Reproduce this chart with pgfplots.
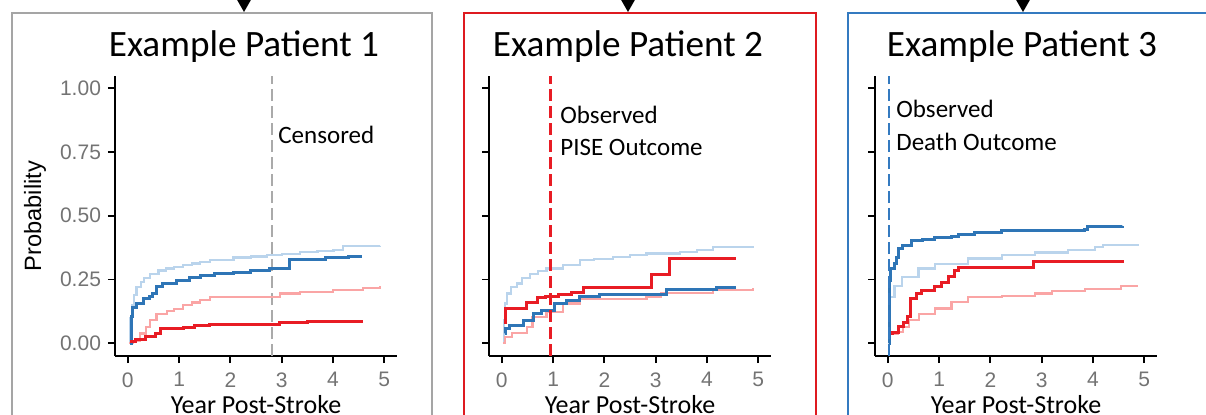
\documentclass[border=0pt]{standalone}
\usepackage{pgfplots}
\pgfplotsset{compat=1.18}
\usepackage{fontspec}
\setmainfont{Liberation Sans}
\newfontfamily\carlito{Carlito}
\definecolor{dblue}{RGB}{46,117,182}
\definecolor{lblue}{RGB}{186,212,236}
\definecolor{dred}{RGB}{232,28,36}
\definecolor{lred}{RGB}{250,165,165}
\definecolor{tickgray}{RGB}{115,115,115}
\definecolor{dashgray}{RGB}{170,170,170}
\definecolor{boxgray}{RGB}{165,165,165}
\definecolor{boxred}{RGB}{222,26,32}
\definecolor{boxblue}{RGB}{52,122,192}
\pgfplotsset{panel/.style={
  scale only axis, width=141pt, height=140.25pt,
  xmin=-0.25, xmax=5.25, ymin=-0.05, ymax=1.05,
  axis x line*=bottom, axis y line*=left,
  axis line style={-, line width=1.3pt, black},
  xtick={0,1,2,3,4,5}, ytick={0,0.25,0.5,0.75,1},
  tick align=outside, major tick length=3.5pt,
  tick style={line width=0.9pt, black},
  ticklabel style={font=\fontsize{10.5}{12}\selectfont, text=tickgray},
  xticklabel style={yshift=-1.2pt},
  /pgf/number format/assume math mode=true,
  anchor=south west, clip=false},
  lb/.style={const plot, lblue, line width=1.1pt},
  lr/.style={const plot, lred, line width=1.1pt},
  db/.style={const plot, dblue, line width=1.5pt},
  dr/.style={const plot, dred, line width=1.5pt}}
\begin{document}
\begin{tikzpicture}
\useasboundingbox (0pt,0pt) rectangle (603pt,207pt);
\clip (0pt,0pt) rectangle (603pt,207pt);
\begin{scope}[x=0.5pt,y=0.5pt]
% boxes
\draw[boxgray, line width=1.2pt] (12,-30) -- (12,401) -- (432,401) -- (432,-30);
\draw[boxred, line width=1.3pt] (464,-30) -- (464,401) -- (816,401) -- (816,-30);
\draw[boxblue, line width=1.3pt] (848,-30) -- (848,401) -- (1230,401);
% arrows
\foreach \ax in {244,628,1023}{
  \fill[black] (\ax-8,416) -- (\ax+8,416) -- (\ax,402) -- cycle;}
% titles
\node[anchor=base, font=\carlito\fontsize{18.6}{20}\selectfont] at (244,358) {Example Patient 1};
\node[anchor=base, font=\carlito\fontsize{18.6}{20}\selectfont] at (628,358) {Example Patient 2};
\node[anchor=base, font=\carlito\fontsize{18.6}{20}\selectfont] at (1022,358) {Example Patient 3};
\end{scope}
% panel 1
\begin{axis}[panel, at={(57.5pt,29pt)}, yticklabels={0.00,0.25,0.50,0.75,1.00}]
\addplot[dashgray, line width=1pt, dash pattern=on 6pt off 2.5pt] coordinates {(2.81,-0.05) (2.81,1.05)};
\addplot[lb] coordinates {(0.02,0) (0.05,0.10) (0.08,0.15) (0.12,0.19) (0.17,0.22) (0.25,0.24) (0.32,0.255) (0.43,0.273) (0.6,0.285) (0.75,0.293) (0.9,0.30) (1.08,0.306) (1.25,0.313) (1.41,0.319) (1.6,0.325) (1.73,0.328) (2.06,0.336) (2.4,0.34) (2.71,0.345) (3.0,0.35) (3.36,0.358) (3.7,0.362) (4.01,0.365) (4.2,0.38) (4.92,0.382)};
\addplot[lr] coordinates {(0.02,0) (0.1,0.01) (0.23,0.038) (0.35,0.065) (0.43,0.09) (0.56,0.116) (0.76,0.125) (0.9,0.135) (1.08,0.149) (1.25,0.16) (1.41,0.169) (1.6,0.182) (2.78,0.182) (2.97,0.195) (3.36,0.2) (4.0,0.208) (4.58,0.218) (4.92,0.224)};
\addplot[db] coordinates {(0.05,0.0) (0.07,0.103) (0.1,0.142) (0.17,0.156) (0.3,0.175) (0.42,0.182) (0.48,0.195) (0.55,0.221) (0.68,0.234) (0.94,0.247) (1.2,0.258) (1.41,0.267) (1.7,0.272) (2.06,0.276) (2.4,0.284) (2.77,0.293) (3.16,0.328) (3.85,0.337) (4.3,0.341) (4.56,0.341)};
\addplot[dr] coordinates {(0.05,0.005) (0.15,0.015) (0.35,0.027) (0.54,0.038) (0.64,0.058) (1.08,0.063) (1.3,0.07) (1.6,0.075) (2.8,0.075) (2.95,0.08) (3.5,0.086) (4.58,0.086)};
\end{axis}
% panel 2
\begin{axis}[panel, at={(244.5pt,29pt)}, yticklabels={}]
\addplot[lb] coordinates {(0.02,0) (0.04,0.09) (0.06,0.156) (0.1,0.195) (0.18,0.22) (0.29,0.234) (0.4,0.255) (0.55,0.273) (0.7,0.283) (0.87,0.293) (1.2,0.306) (1.52,0.325) (1.8,0.33) (2.17,0.338) (2.5,0.345) (2.82,0.352) (3.47,0.358) (3.8,0.365) (4.12,0.378) (4.9,0.38)};
\addplot[lr] coordinates {(0.03,0) (0.06,0.025) (0.2,0.04) (0.49,0.064) (0.6,0.103) (0.87,0.123) (1.2,0.156) (1.52,0.175) (2.82,0.182) (3.1,0.197) (4.12,0.208) (4.9,0.218)};
\addplot[db] coordinates {(0.06,0.04) (0.08,0.058) (0.15,0.07) (0.42,0.09) (0.62,0.116) (0.78,0.129) (1.03,0.156) (1.26,0.169) (1.52,0.182) (1.91,0.192) (3.21,0.21) (4.18,0.218) (4.57,0.218)};
\addplot[dr] coordinates {(0.05,0.08) (0.08,0.136) (0.48,0.16) (0.7,0.178) (0.85,0.184) (1.1,0.19) (1.35,0.2) (1.6,0.218) (2.92,0.27) (3.27,0.332) (4.57,0.332)};
\addplot[dred, line width=1.3pt, dash pattern=on 6pt off 2.5pt] coordinates {(0.95,-0.05) (0.95,1.05)};
\end{axis}
% panel 3
\begin{axis}[panel, at={(437.5pt,29pt)}, yticklabels={}]
\addplot[lb] coordinates {(0.03,0.1) (0.05,0.182) (0.13,0.225) (0.28,0.26) (0.6,0.293) (0.92,0.31) (1.57,0.332) (2.22,0.345) (2.87,0.356) (3.52,0.366) (4.04,0.378) (4.2,0.384) (4.9,0.384)};
\addplot[lr] coordinates {(0.07,0.038) (0.2,0.044) (0.3,0.064) (0.42,0.09) (0.61,0.116) (0.92,0.136) (1.24,0.162) (1.57,0.182) (2.22,0.185) (2.87,0.195) (3.2,0.205) (3.84,0.214) (4.55,0.224) (4.87,0.224)};
\addplot[db] coordinates {(0.02,0) (0.03,0.247) (0.05,0.293) (0.13,0.313) (0.17,0.338) (0.21,0.371) (0.28,0.384) (0.47,0.401) (0.67,0.407) (0.92,0.414) (1.24,0.42) (1.37,0.427) (1.7,0.436) (2.22,0.443) (3.84,0.446) (3.9,0.456) (4.58,0.459)};
\addplot[dr] coordinates {(0.07,0.04) (0.1,0.044) (0.21,0.064) (0.3,0.083) (0.39,0.103) (0.45,0.175) (0.55,0.195) (0.65,0.208) (0.92,0.224) (1.05,0.24) (1.18,0.26) (1.31,0.284) (1.37,0.297) (2.85,0.319) (4.6,0.319)};
\addplot[boxblue, line width=1.3pt, dash pattern=on 6pt off 2.5pt] coordinates {(0.02,-0.05) (0.02,1.05)};
\end{axis}
\begin{scope}[x=0.5pt,y=0.5pt]
% axis labels and annotations
\node[rotate=90, font=\fontsize{11.8}{13}\selectfont] at (35,198) {Probability};
\foreach \cx in {256,630,1016}{
  \node[anchor=base, font=\carlito\fontsize{13}{15}\selectfont] at (\cx,1) {Year Post-Stroke};}
\node[anchor=base west, inner sep=0pt, font=\carlito\fontsize{12.5}{14}\selectfont] at (278,271) {Censored};
\node[anchor=base west, inner sep=0pt, font=\carlito\fontsize{12.5}{14}\selectfont] at (560,291) {Observed};
\node[anchor=base west, inner sep=0pt, font=\carlito\fontsize{12.5}{14}\selectfont] at (560,259) {PISE Outcome};
\node[anchor=base west, inner sep=0pt, font=\carlito\fontsize{12.5}{14}\selectfont] at (896,297) {Observed};
\node[anchor=base west, inner sep=0pt, font=\carlito\fontsize{12.5}{14}\selectfont] at (896,264) {Death Outcome};
\end{scope}
\end{tikzpicture}
\end{document}
